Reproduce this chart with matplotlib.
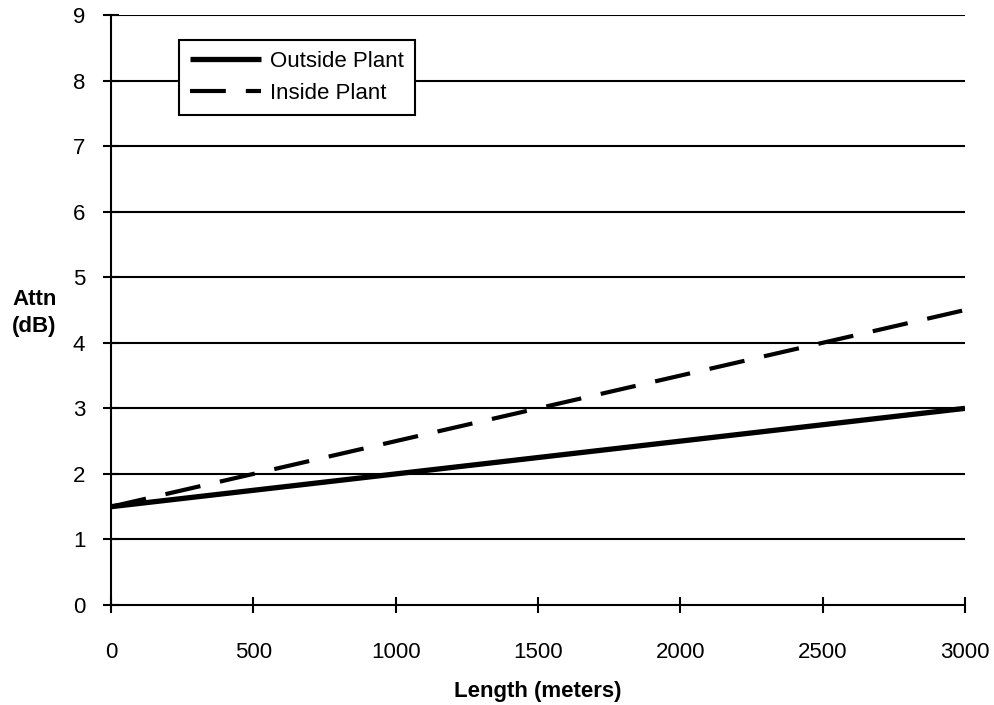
import matplotlib.pyplot as plt

length = [0, 500, 1000, 1500, 2000, 2500, 3000]
outside_plant = [1.5, 1.75, 2.0, 2.25, 2.5, 2.75, 3.0]
inside_plant = [1.5, 2.0, 2.5, 3.0, 3.5, 4.0, 4.5]

plt.rcParams['font.family'] = ['Liberation Sans', 'DejaVu Sans']

fig = plt.figure(figsize=(9.95, 7.05), dpi=100)
ax = fig.add_axes([0.1116, 0.1418, 0.8582, 0.8369])

for y in range(1, 10):
    ax.axhline(y, color='black', linewidth=1.5, zorder=1)

ax.plot(length, outside_plant, color='black', linewidth=3.8, label='Outside Plant',
        zorder=3, solid_capstyle='butt')
ax.plot(length, inside_plant, color='black', linewidth=3.0, linestyle=(0, (8.6, 4.8)),
        label='Inside Plant', zorder=3, dash_capstyle='butt')

ax.set_xlim(0, 3000)
ax.set_ylim(0, 9)
ax.set_xticks(range(0, 3001, 500))
ax.set_yticks(range(0, 10))
ax.tick_params(direction='inout', length=11, width=1.5, labelsize=16)
ax.tick_params(axis='x', pad=21)
ax.tick_params(axis='y', pad=13)
for s in ['top', 'right']:
    ax.spines[s].set_visible(False)
for s in ['left', 'bottom']:
    ax.spines[s].set_linewidth(1.5)

ax.set_xlabel('Length (meters)', fontsize=16, fontweight='bold', va='center')
ax.xaxis.set_label_coords(0.5, -0.146)
ax.set_ylabel('Attn\n(dB)', fontsize=16, fontweight='bold', rotation=0,
              ha='center', va='center', linespacing=1.4)
ax.yaxis.set_label_coords(-0.0896, 0.495)

leg = ax.legend(loc='upper left', bbox_to_anchor=(0.0796, 0.958), fontsize=16,
                frameon=True, fancybox=False, edgecolor='black', framealpha=1,
                handlelength=3.2, handletextpad=0.4, borderpad=0.5, labelspacing=0.5,
                borderaxespad=0)
leg.get_frame().set_linewidth(1.5)

plt.savefig('out.png', dpi=100)
